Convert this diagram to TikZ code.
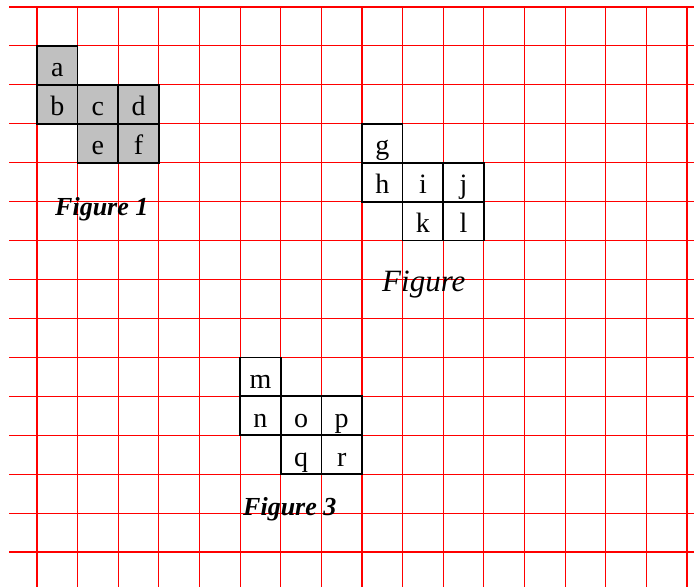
\documentclass[tikz,border=0pt]{standalone}
\usepackage{fontspec}
\setmainfont{Liberation Serif}
\begin{document}
\begin{tikzpicture}[x=1pt,y=-1pt,
  gridline/.style={draw={rgb,255:red,255;green,0;blue,0},line width=1.1pt},
  cell/.style={draw=black,line width=1.7pt,minimum width=40.625pt,minimum height=38.93pt,
    inner sep=0pt,outer sep=0pt,text height=22.9pt,text depth=0pt,
    font=\fontsize{28}{30}\selectfont},
  graycell/.style={cell,fill={rgb,255:red,192;green,192;blue,192}},
  whitecell/.style={cell,fill=white},
  boldcap/.style={anchor=base west,inner sep=0pt,font=\fontsize{26}{28}\selectfont\bfseries\itshape},
  plaincap/.style={anchor=base west,inner sep=0pt,font=\fontsize{31}{33}\selectfont\itshape}]
\useasboundingbox (0,0) rectangle (694,587);
\fill[white] (0,0) rectangle (694,587);
% grid
\foreach \k in {0,...,14}{
  \draw[gridline] (9,{7+38.93*\k}) -- (694,{7+38.93*\k});
}
\foreach \k in {0,...,16}{
  \draw[gridline] ({37+40.625*\k},7) -- ({37+40.625*\k},587);
}
% Figure 1
\node[graycell] (a) at ({37+40.625*0.5},{7+38.93*1.5}) {a};
\node[graycell] (b) at ({37+40.625*0.5},{7+38.93*2.5}) {b};
\node[graycell] (c) at ({37+40.625*1.5},{7+38.93*2.5}) {c};
\node[graycell] (d) at ({37+40.625*2.5},{7+38.93*2.5}) {d};
\node[graycell] (e) at ({37+40.625*1.5},{7+38.93*3.5}) {e};
\node[graycell] (f) at ({37+40.625*2.5},{7+38.93*3.5}) {f};
\node[boldcap] (cap1) at (55,215) {Figure 1};
% Figure 2
\node[whitecell] (g) at ({37+40.625*8.5},{7+38.93*3.5}) {g};
\node[whitecell] (h) at ({37+40.625*8.5},{7+38.93*4.5}) {h};
\node[whitecell] (i) at ({37+40.625*9.5},{7+38.93*4.5}) {i};
\node[whitecell] (j) at ({37+40.625*10.5},{7+38.93*4.5}) {j};
\node[whitecell] (k) at ({37+40.625*9.5},{7+38.93*5.5}) {k};
\node[whitecell] (l) at ({37+40.625*10.5},{7+38.93*5.5}) {l};
\node[plaincap] (cap2) at (382,291) {Figure};
% Figure 3
\node[whitecell] (m) at ({37+40.625*5.5},{7+38.93*9.5}) {m};
\node[whitecell] (n) at ({37+40.625*5.5},{7+38.93*10.5}) {n};
\node[whitecell] (o) at ({37+40.625*6.5},{7+38.93*10.5}) {o};
\node[whitecell] (p) at ({37+40.625*7.5},{7+38.93*10.5}) {p};
\node[whitecell] (q) at ({37+40.625*6.5},{7+38.93*11.5}) {q};
\node[whitecell] (r) at ({37+40.625*7.5},{7+38.93*11.5}) {r};
\node[boldcap] (cap3) at (243,515) {Figure 3};
\end{tikzpicture}
\end{document}
